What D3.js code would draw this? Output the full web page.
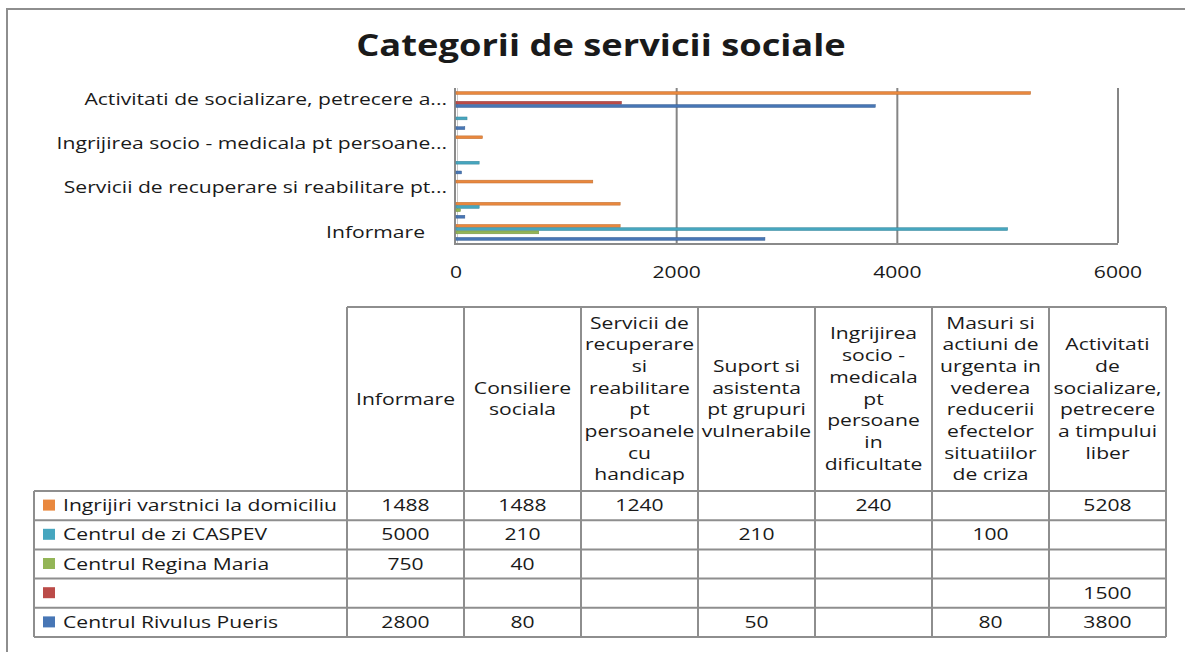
<!DOCTYPE html>
<html>
<head>
<meta charset="utf-8">
<script src="https://cdn.jsdelivr.net/npm/d3@7"></script>
<style>
  body { margin: 0; background: #fff; }
  text { font-family: "Open Sans", sans-serif; fill: #1a1a1a; }
</style>
</head>
<body>
<div id="chart"></div>
<script>
// categories (bottom to top in the bar chart, left to right in the table)
const categories = [
  "Informare",
  "Consiliere sociala",
  "Servicii de recuperare si reabilitare pt persoanele cu handicap",
  "Suport si asistenta pt grupuri vulnerabile",
  "Ingrijirea socio - medicala pt persoane in dificultate",
  "Masuri si actiuni de urgenta in vederea reducerii efectelor situatiilor de criza",
  "Activitati de socializare, petrecere a timpului liber"
]

// labels shown on the category axis (every second one)
const axisLabels = [
  "Informare\u00a0\u00a0\u00a0\u00a0",
  "",
  "Servicii de recuperare si reabilitare pt...",
  "",
  "Ingrijirea socio - medicala pt persoane...",
  "",
  "Activitati de socializare, petrecere a..."
]

// table header lines
const headerLabels = [
  "Informare",
  "Consiliere\nsociala",
  "Servicii de\nrecuperare\nsi\nreabilitare\npt\npersoanele\ncu\nhandicap",
  "Suport si\nasistenta\npt grupuri\nvulnerabile",
  "Ingrijirea\nsocio -\nmedicala\npt\npersoane\nin\ndificultate",
  "Masuri si\nactiuni de\nurgenta in\nvederea\nreducerii\nefectelor\nsituatiilor\nde criza",
  "Activitati\nde\nsocializare,\npetrecere\na timpului\nliber"
]

// series, in table order
const seriesNames = ["Ingrijiri varstnici la domiciliu", "Centrul de zi CASPEV", "Centrul Regina Maria", "", "Centrul Rivulus Pueris"]
const ingrijiri   = [1488, 1488, 1240, null, 240, null, 5208]
const caspev      = [5000, 210, null, 210, null, 100, null]
const reginaMaria = [750, 40, null, null, null, null, null]
const unnamed     = [null, null, null, null, null, null, 1500]
const rivulus     = [2800, 80, null, 50, null, 80, 3800]
const seriesValues = [ingrijiri, caspev, reginaMaria, unnamed, rivulus]
const seriesColors = ["#E9883E", "#46A6BF", "#93B556", "#BB4B48", "#4776B5"]

const xTicks = [0, 2000, 4000, 6000]

// boiler plate
const svgWidth = 1185
const svgHeight = 652
const stretch = 1.32   // text in the picture is wide

let plot = { left: 456, right: 1118, top: 88, bottom: 243 }

let svg = d3.select("#chart")
  .append("svg")
  .attr("width", svgWidth)
  .attr("height", svgHeight)

// outer frame (right and bottom sides run off the picture)
svg.append("rect")
  .attr("x", 7).attr("y", 9)
  .attr("width", 1200).attr("height", 700)
  .attr("fill", "none")
  .attr("stroke", "#8e8e8e")
  .attr("stroke-width", 2)

// title
svg.append("text")
  .attr("transform", "translate(601,56) scale(1.21,1)")
  .attr("text-anchor", "middle")
  .attr("font-size", 30)
  .attr("font-weight", 700)
  .text("Categorii de servicii sociale")

// scales
let xScale = d3.scaleLinear()
  .domain([0, 6000])
  .range([plot.left, plot.right])

let yScale = d3.scaleBand()
  .domain(d3.range(categories.length))
  .range([plot.bottom, plot.top])

let seriesScale = d3.scaleBand()
  .domain(d3.range(seriesNames.length))
  .range([yScale.bandwidth() * 0.153, yScale.bandwidth() * 0.887])

// gridlines
svg.append("g")
  .selectAll("line")
  .data(xTicks.slice(1))
  .enter()
  .append("line")
  .attr("x1", d => xScale(d)).attr("x2", d => xScale(d))
  .attr("y1", plot.top).attr("y2", plot.bottom)
  .attr("stroke", "#858585")
  .attr("stroke-width", 2)

// axis lines
svg.append("line")
  .attr("x1", xScale(0) - 1).attr("x2", xScale(0) - 1)
  .attr("y1", plot.top).attr("y2", plot.bottom + 1)
  .attr("stroke", "#8a8a8a").attr("stroke-width", 2)
svg.append("line")
  .attr("x1", xScale(0) + 1.5).attr("x2", xScale(0) + 1.5)
  .attr("y1", plot.top).attr("y2", plot.bottom)
  .attr("stroke", "#c8c8c8").attr("stroke-width", 1)
svg.append("line")
  .attr("x1", xScale(0) - 2).attr("x2", plot.right)
  .attr("y1", plot.bottom + 1).attr("y2", plot.bottom + 1)
  .attr("stroke", "#8a8a8a").attr("stroke-width", 2)

// bars
seriesValues.forEach((values, s) => {
  svg.append("g")
    .selectAll("rect")
    .data(values.map((v, i) => ({ i: i, v: v })).filter(d => d.v != null))
    .enter()
    .append("rect")
    .attr("x", xScale(0))
    .attr("y", d => yScale(d.i) + seriesScale(s) + 0.2)
    .attr("width", d => xScale(d.v) - xScale(0))
    .attr("height", seriesScale.bandwidth() - 0.4)
    .attr("fill", seriesColors[s])
    .attr("stroke", d3.color(seriesColors[s]).darker(0.6))
    .attr("stroke-width", 0.5)
})

// x tick labels
svg.append("g")
  .selectAll("text")
  .data(xTicks)
  .enter()
  .append("text")
  .attr("transform", d => `translate(${xScale(d)},278) scale(${stretch},1)`)
  .attr("text-anchor", "middle")
  .attr("font-size", 16)
  .text(d => d)

// category axis
let yAxis = svg.append("g")
  .attr("transform", `translate(${plot.left}, 0)`)
  .call(d3.axisLeft(yScale).tickSize(0).tickPadding(9).tickFormat(i => axisLabels[i]))
yAxis.select(".domain").remove()
yAxis.selectAll(".tick text")
  .attr("x", 0)
  .attr("dy", "0.36em")
  .attr("transform", `translate(-9,0) scale(${stretch},1)`)
  .attr("font-family", "'Open Sans', sans-serif")
  .attr("font-size", 16)
  .attr("fill", "#1a1a1a")

// data table
let table = { left: 34, colLeft: 347, right: 1166, top: 307, headerBottom: 491, bottom: 637 }

let colScale = d3.scaleBand()
  .domain(d3.range(categories.length))
  .range([table.colLeft, table.right])

let rowScale = d3.scaleBand()
  .domain(d3.range(seriesNames.length))
  .range([table.headerBottom, table.bottom])

let tableGroup = svg.append("g")
  .attr("stroke", "#8e8e8e")
  .attr("stroke-width", 2)

// header box top
tableGroup.append("line")
  .attr("x1", table.colLeft).attr("x2", table.right)
  .attr("y1", table.top).attr("y2", table.top)

// vertical lines
tableGroup.selectAll(".vline")
  .data(d3.range(categories.length + 1))
  .enter()
  .append("line")
  .attr("x1", i => table.colLeft + i * colScale.step())
  .attr("x2", i => table.colLeft + i * colScale.step())
  .attr("y1", table.top).attr("y2", table.bottom)

tableGroup.append("line")
  .attr("x1", table.left).attr("x2", table.left)
  .attr("y1", table.headerBottom).attr("y2", table.bottom)

// horizontal lines
tableGroup.selectAll(".hline")
  .data(d3.range(seriesNames.length + 1))
  .enter()
  .append("line")
  .attr("x1", table.left).attr("x2", table.right)
  .attr("y1", i => table.headerBottom + i * rowScale.step())
  .attr("y2", i => table.headerBottom + i * rowScale.step())

// header text
const lineHeight = 21.7
let headerMid = (table.top + table.headerBottom) / 2
headerLabels.forEach((label, c) => {
  let lines = label.split("\n")
  let first = headerMid - (lines.length - 1) / 2 * lineHeight + 5.5
  svg.append("g")
    .selectAll("text")
    .data(lines)
    .enter()
    .append("text")
    .attr("transform", (d, k) => `translate(${colScale(c) + colScale.bandwidth() / 2},${first + k * lineHeight}) scale(${stretch},1)`)
    .attr("text-anchor", "middle")
    .attr("font-size", 16)
    .text(d => d)
})

// legend keys and names
let legendRows = svg.append("g")
  .selectAll("g")
  .data(seriesNames)
  .enter()
  .append("g")
  .attr("transform", (d, s) => `translate(0,${rowScale(s) + rowScale.bandwidth() / 2})`)

legendRows.append("rect")
  .attr("x", 43).attr("y", -6)
  .attr("width", 12).attr("height", 11)
  .attr("fill", (d, s) => seriesColors[s])

legendRows.append("text")
  .attr("transform", `translate(63,5.5) scale(${stretch},1)`)
  .attr("font-size", 16)
  .text(d => d)

// values
seriesValues.forEach((values, s) => {
  svg.append("g")
    .selectAll("text")
    .data(values.map((v, i) => ({ i: i, v: v })).filter(d => d.v != null))
    .enter()
    .append("text")
    .attr("transform", d => `translate(${colScale(d.i) + colScale.bandwidth() / 2},${rowScale(s) + rowScale.bandwidth() / 2 + 5.5}) scale(${stretch},1)`)
    .attr("text-anchor", "middle")
    .attr("font-size", 16)
    .text(d => d.v)
})
</script>
</body>
</html>
